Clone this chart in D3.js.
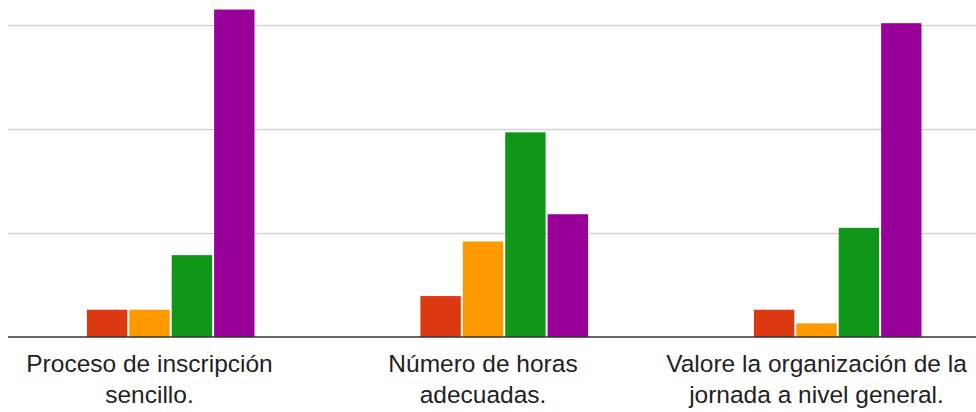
<!DOCTYPE html>
<html>
<head>
<meta charset="utf-8">
<script src="https://cdn.jsdelivr.net/npm/d3@7"></script>
<style>
  body { margin: 0; background: #fff; }
  svg { display: block; font-family: "Liberation Sans", Arial, sans-serif; }
</style>
</head>
<body>
<svg width="976" height="412"></svg>
<script>
(function () {
  'use strict';

  // questions (x categories), each wrapped on two lines
  const categories = [
    ["Proceso de inscripción", "sencillo."],
    ["Número de horas", "adecuadas."],
    ["Valore la organización de la", "jornada a nivel general."]
  ];
  // answer scale 1..5, one series per rating
  const seriesNames = ["1", "2", "3", "4", "5"];
  const seriesColors = ["#3366cc", "#dc3912", "#ff9900", "#109618", "#990099"];
  // responses per rating, per question
  const rating1 = [0, 0, 0];
  const rating2 = [2, 3, 2];
  const rating3 = [2, 7, 1];
  const rating4 = [6, 15, 8];
  const rating5 = [24, 9, 23];
  const gridValues = [7.63, 15.26, 22.89];

  const series = [rating1, rating2, rating3, rating4, rating5];

  const W = 976, H = 412;
  const baseY = 337, chartLeft = 8;

  const svg = d3.select("svg");

  const y = d3.scaleLinear().domain([0, 24.7]).range([baseY, 0]);

  const x0 = d3.scaleBand()
    .domain(d3.range(categories.length))
    .range([-17.25, 983.25])
    .paddingInner(0.3703)
    .paddingOuter(0.3703 / 2);

  const x1 = d3.scaleBand()
    .domain(d3.range(seriesNames.length))
    .range([0, x0.bandwidth()])
    .paddingInner(2 / 42)
    .paddingOuter(0);

  // gridlines
  svg.append("g")
    .selectAll("line")
    .data(gridValues)
    .enter()
    .append("line")
      .attr("x1", chartLeft)
      .attr("x2", W)
      .attr("y1", d => Math.round(y(d)) + 0.5)
      .attr("y2", d => Math.round(y(d)) + 0.5)
      .attr("stroke", "#d4d4d4")
      .attr("stroke-width", 1.5);

  // bars
  const groups = svg.append("g")
    .selectAll("g")
    .data(categories)
    .enter()
    .append("g")
      .attr("transform", (d, i) => "translate(" + x0(i) + ",0)");

  groups.selectAll("rect")
    .data((d, i) => series.map((s, k) => ({k: k, v: s[i]})))
    .enter()
    .filter(d => d.v > 0)
    .append("rect")
      .attr("x", d => x1(d.k))
      .attr("width", x1.bandwidth())
      .attr("y", d => y(d.v))
      .attr("height", d => baseY - y(d.v))
      .attr("fill", d => seriesColors[d.k]);

  // baseline
  svg.append("line")
    .attr("x1", chartLeft)
    .attr("x2", W)
    .attr("y1", baseY)
    .attr("y2", baseY)
    .attr("stroke", "#333")
    .attr("stroke-width", 1.6);

  // category labels
  const labels = svg.append("g")
    .selectAll("text")
    .data(categories)
    .enter()
    .append("text")
      .attr("x", (d, i) => x0(i) + x0.bandwidth() / 2)
      .attr("y", 372)
      .attr("text-anchor", "middle")
      .attr("font-size", 24.5)
      .attr("fill", "#222");

  labels.selectAll("tspan")
    .data(d => d)
    .enter()
    .append("tspan")
      .attr("x", function () { return d3.select(this.parentNode).attr("x"); })
      .attr("dy", (d, i) => i === 0 ? 0 : 31)
      .text(d => d);
}());
</script>
</body>
</html>
